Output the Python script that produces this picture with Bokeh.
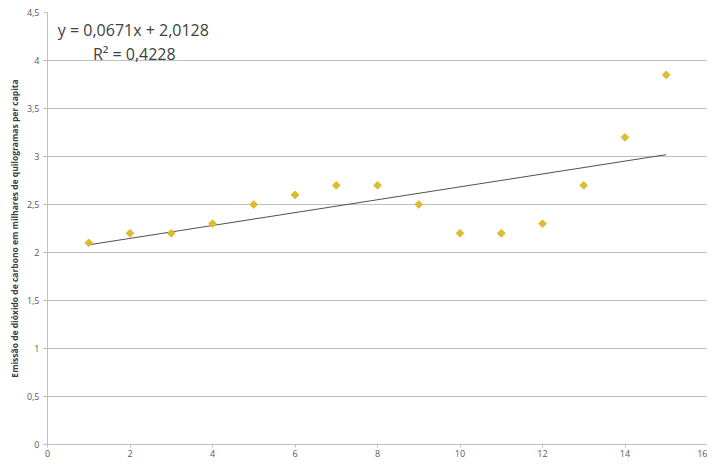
from bokeh.plotting import figure
from bokeh.models import Range1d, FixedTicker, CustomJSTickFormatter, Label, ColumnDataSource
from bokeh.embed import file_html
from bokeh.resources import INLINE

x_vals = [1, 2, 3, 4, 5, 6, 7, 8, 9, 10, 11, 12, 13, 14, 15]
y_vals = [2.1, 2.2, 2.2, 2.3, 2.5, 2.6, 2.7, 2.7, 2.5, 2.2, 2.2, 2.3, 2.7, 3.2, 3.85]
x_ticks = [0, 2, 4, 6, 8, 10, 12, 14, 16]
y_ticks = [0, 0.5, 1, 1.5, 2, 2.5, 3, 3.5, 4, 4.5]
slope = 0.0671
intercept = 2.0128
r2 = 0.4228
y_label = "Emissão de dióxido de carbono em milhares de quilogramas per capita"

FONT = "Open Sans"

p = figure(width=707, height=460, output_backend="svg", toolbar_location=None,
           x_range=Range1d(0, 16), y_range=Range1d(0, 4.5),
           min_border_left=47, min_border_right=0, min_border_top=12, min_border_bottom=16)
p.outline_line_color = None
p.background_fill_color = "white"

fmt = CustomJSTickFormatter(code="return tick.toString().replace('.', ',');")
for ax, ticks in ((p.xaxis[0], x_ticks), (p.yaxis[0], y_ticks)):
    ax.ticker = FixedTicker(ticks=ticks)
    ax.formatter = fmt
    ax.axis_line_color = "#bfbfbf"
    ax.major_tick_line_color = "#bfbfbf"
    ax.major_tick_out = 4
    ax.major_tick_in = 0
    ax.minor_tick_line_color = None
    ax.major_label_text_font = FONT
    ax.major_label_text_font_size = "9px"
    ax.major_label_text_color = "#595959"
    ax.major_label_standoff = 4

p.xaxis.major_tick_out = 3
p.xaxis.major_label_standoff = 2

p.yaxis.axis_label = y_label
p.yaxis.axis_label_text_font = FONT
p.yaxis.axis_label_text_font_size = "8.5px"
p.yaxis.axis_label_text_font_style = "bold"
p.yaxis.axis_label_text_color = "#404040"
p.yaxis.axis_label_standoff = 4

p.xgrid.grid_line_color = None
p.ygrid.grid_line_color = "#c0c0c0"
p.ygrid.ticker = FixedTicker(ticks=y_ticks)

# trendline from coefficients
tx = [x_vals[0], x_vals[-1]]
ty = [slope * v + intercept for v in tx]
p.line(tx, ty, line_color="#505050", line_width=1)

src = ColumnDataSource(dict(x=x_vals, y=y_vals))
p.scatter("x", "y", source=src, marker="square", angle=0.7854, size=5.5,
          fill_color="#dcbc30", line_color="#dcbc30")

def fnum(v, n):
    return f"{v:.{n}f}".replace(".", ",")

eq1 = f"y = {fnum(slope, 4)}x + {fnum(intercept, 4)}"
eq2 = f"R² = {fnum(r2, 4)}"
p.add_layout(Label(x=0.25, y=4.32, text=eq1, text_font=FONT, text_font_size="16px",
                   text_color="#404040", text_baseline="alphabetic"))
p.add_layout(Label(x=1.1, y=4.07, text=eq2, text_font=FONT, text_font_size="16px",
                   text_color="#404040", text_baseline="alphabetic"))

open("out.html", "w").write(file_html(p, INLINE))
